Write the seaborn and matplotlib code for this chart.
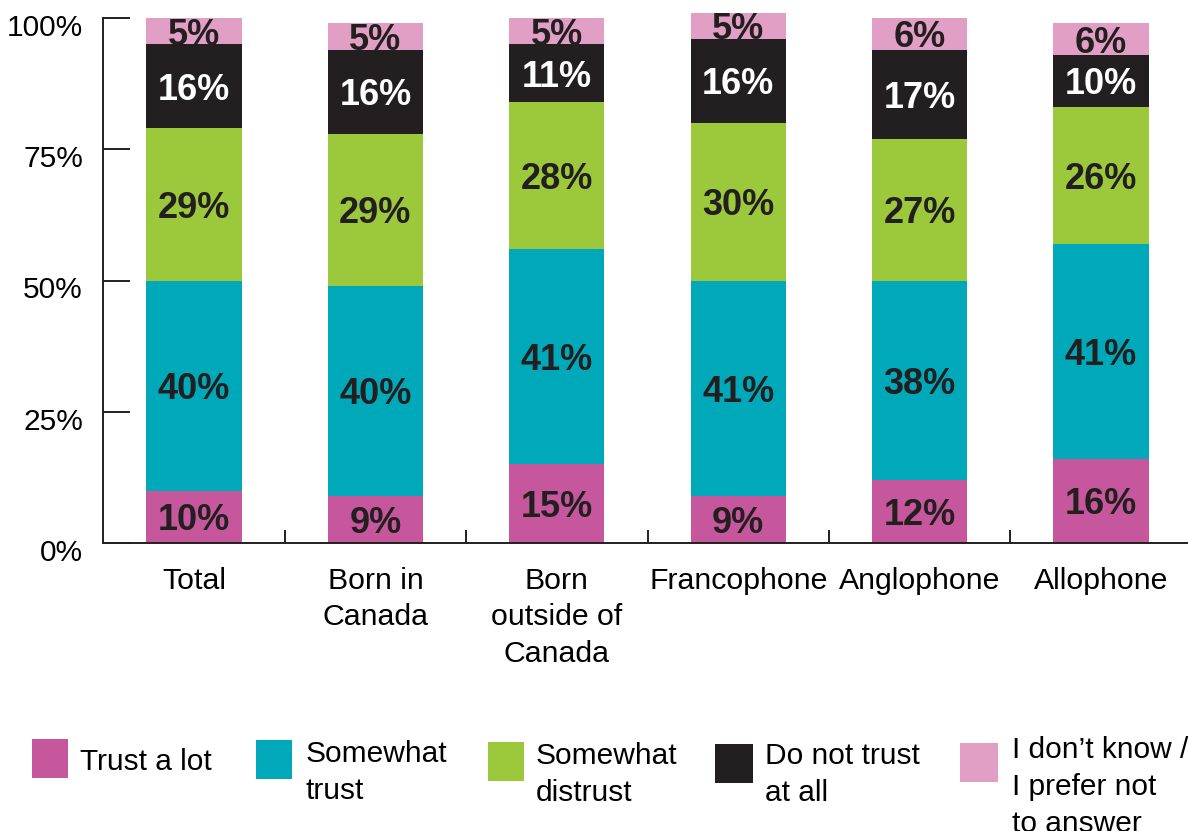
import matplotlib
matplotlib.use("Agg")
import matplotlib.pyplot as plt
from matplotlib.patches import Rectangle
from matplotlib.transforms import ScaledTranslation
import numpy as np
import pandas as pd
import seaborn as sns

# ---- data -------------------------------------------------------------
categories = ["Total", "Born in\nCanada", "Born\noutside of\nCanada",
              "Francophone", "Anglophone", "Allophone"]
series = ["Trust a lot", "Somewhat\ntrust", "Somewhat\ndistrust",
          "Do not trust\nat all", "I don\u2019t know /\nI prefer not\nto answer"]
trust_a_lot = [10, 9, 15, 9, 12, 16]
somewhat_trust = [40, 40, 41, 41, 38, 41]
somewhat_distrust = [29, 29, 28, 30, 27, 26]
no_trust = [16, 16, 11, 16, 17, 10]
dont_know = [5, 5, 5, 5, 6, 6]
yticks = [0, 25, 50, 75, 100]
ytick_labels = ["0%", "25%", "50%", "75%", "100%"]

colors = ["#C6579C", "#00A9BA", "#9BC93B", "#231F20", "#E29FC5"]
label_colors = ["#231F20", "#231F20", "#231F20", "#FFFFFF", "#231F20"]

values = np.array([trust_a_lot, somewhat_trust, somewhat_distrust,
                   no_trust, dont_know])
tops = values.cumsum(axis=0)
bottoms = tops - values

rows = []
for i, s in enumerate(series):
    for j, c in enumerate(categories):
        rows.append({"series": s, "category": c, "value": values[i, j],
                     "top": tops[i, j], "bottom": bottoms[i, j]})
df = pd.DataFrame(rows)

# ---- figure -----------------------------------------------------------
sns.set_style("ticks")
plt.rcParams["font.family"] = ["Liberation Sans", "DejaVu Sans"]

W, H = 1188, 831
fig = plt.figure(figsize=(W / 100, H / 100), dpi=100)
ax = fig.add_axes([103 / W, (H - 543) / H, 1 - 103 / W, 525 / H])

# stacked bars: draw cumulative totals from the top segment downwards
for i in range(len(series) - 1, -1, -1):
    sub = df[df["series"] == series[i]]
    sns.barplot(data=sub, x="category", y="top", order=categories,
                color=colors[i], saturation=1, width=0.524, errorbar=None,
                linewidth=0, edgecolor="none", clip_on=False, ax=ax)

# segment labels
for i in range(len(series)):
    for j in range(len(categories)):
        v = values[i, j]
        ax.text(j, bottoms[i, j] + v / 2, f"{v}%", ha="center",
                va="center_baseline", fontsize=26, fontweight="bold",
                color=label_colors[i], clip_on=False)

# axes styling
ax.set_xlim(-0.5017, 5.4796)
ax.set_ylim(0, 100)
ax.set_xlabel("")
ax.set_ylabel("")
sns.despine(ax=ax)
for side in ("left", "bottom"):
    ax.spines[side].set_linewidth(1.4)
    ax.spines[side].set_color("#231F20")

ax.set_yticks(yticks)
ax.set_yticklabels(ytick_labels)
ax.tick_params(axis="y", direction="in", length=19.4, width=1.4,
               pad=14.4, labelsize=21.5, colors="#231F20", labelcolor="black")
lift = ScaledTranslation(0, 4 / 100, fig.dpi_scale_trans)
for lbl in ax.get_yticklabels():
    lbl.set_va("top")
    lbl.set_transform(lbl.get_transform() + lift)

ax.set_xticks(range(len(categories)))
ax.set_xticklabels(categories)
ax.set_xticks(np.arange(0.5, len(categories) - 1, 1.0), minor=True)
ax.tick_params(axis="x", which="major", length=0, pad=17, labelsize=21.8,
               labelcolor="black")
ax.tick_params(axis="x", which="minor", direction="in", length=9.4,
               width=1.4, colors="#231F20")
for lbl in ax.get_xticklabels():
    lbl.set_linespacing(1.4)

# legend row
def fx(px):
    return px / W

def fy(py):
    return 1 - py / H

legend_items = [
    # square x, square top, square w, square h, text x, text top
    (32, 739, 36, 39, 80, 748),
    (256, 740, 36, 39, 306, 740),
    (488, 742, 36, 39, 536, 742),
    (715, 744, 38, 39, 765, 742),
    (960, 743, 38, 39, 1012, 736),
]
for (sx, sy, sw, sh, tx, ty), name, col in zip(legend_items, series, colors):
    fig.add_artist(Rectangle((fx(sx), fy(sy + sh)), sw / W, sh / H,
                             transform=fig.transFigure, facecolor=col,
                             edgecolor="none"))
    fig.text(fx(tx), fy(ty), name, ha="left", va="top", fontsize=21.5,
             color="black", linespacing=1.4)

fig.savefig("out.png", dpi=100)
